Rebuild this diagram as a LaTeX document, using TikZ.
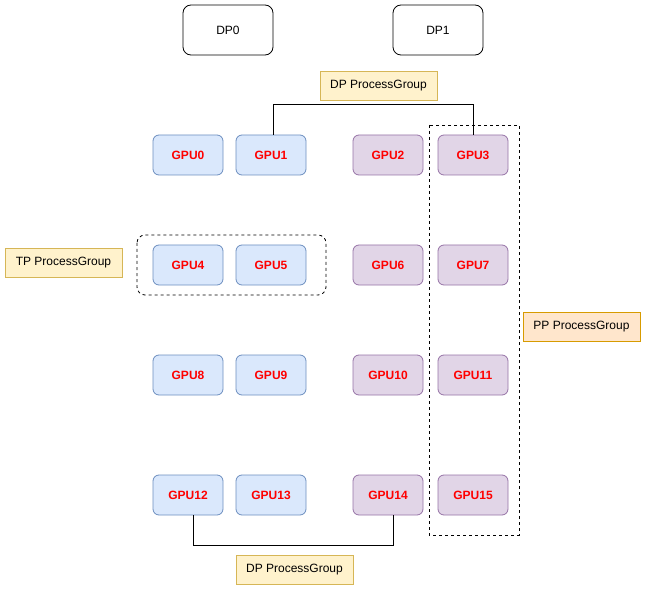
\documentclass[tikz,border=0pt]{standalone}
\usepackage{fontspec}
\setmainfont{Liberation Sans}
\begin{document}
\begin{tikzpicture}[x=1pt,y=-1pt,
  font=\fontsize{12}{14}\selectfont,
  gpubase/.style={rounded corners=6pt, minimum width=70pt, minimum height=40pt, inner sep=0pt, text=red, font=\fontsize{12}{14}\selectfont\bfseries, line width=0.8pt},
  gpublue/.style={gpubase, draw={rgb,255:red,108;green,142;blue,191}, fill={rgb,255:red,218;green,232;blue,252}},
  gpupurple/.style={gpubase, draw={rgb,255:red,150;green,115;blue,166}, fill={rgb,255:red,225;green,213;blue,231}},
  dpbox/.style={draw=black, rounded corners=8pt, minimum width=90pt, minimum height=50pt, inner sep=0pt, line width=0.8pt},
  pgyellow/.style={draw={rgb,255:red,214;green,182;blue,86}, fill={rgb,255:red,255;green,242;blue,204}, minimum width=117pt, minimum height=29pt, inner sep=0pt, line width=0.8pt},
  pgorange/.style={draw={rgb,255:red,215;green,155;blue,0}, fill={rgb,255:red,255;green,230;blue,204}, minimum width=117pt, minimum height=29pt, inner sep=0pt, line width=0.8pt},
  grpline/.style={draw=black, line width=0.8pt},
  dashgroup/.style={draw=black, dashed, line width=0.8pt}
]
\useasboundingbox (0,0) rectangle (646,591);
% DP boxes
\node[dpbox] (dp0) at (228,30) {DP0};
\node[dpbox] (dp1) at (438,30) {DP1};
% GPUs
\foreach \r/\y in {0/155,1/265,2/375,3/495}{
  \pgfmathtruncatemacro{\a}{4*\r}
  \pgfmathtruncatemacro{\b}{4*\r+1}
  \pgfmathtruncatemacro{\c}{4*\r+2}
  \pgfmathtruncatemacro{\d}{4*\r+3}
  \node[gpublue] (g\a) at (188,\y) {GPU\a};
  \node[gpublue] (g\b) at (271,\y) {GPU\b};
  \node[gpupurple] (g\c) at (388,\y) {GPU\c};
  \node[gpupurple] (g\d) at (473,\y) {GPU\d};
}
% TP group
\draw[dashgroup, rounded corners=8pt] (137,235) rectangle (326,295);
\node[pgyellow] (tp) at (63.5,262.5) {TP ProcessGroup};
% PP group
\draw[dashgroup] (429,125) rectangle (519,535);
\node[pgorange] (pp) at (581.5,327) {PP ProcessGroup};
% DP group top
\node[pgyellow] (dpt) at (378.5,85.5) {DP ProcessGroup};
\draw[grpline] ([xshift=2pt]g1.north) -- ++(0,-30) -| (g3.north);
% DP group bottom
\node[pgyellow] (dpb) at (294.5,570) {DP ProcessGroup};
\draw[grpline] ([xshift=5pt]g12.south) -- ++(0,30) -| ([xshift=5pt]g14.south);
\end{tikzpicture}
\end{document}
